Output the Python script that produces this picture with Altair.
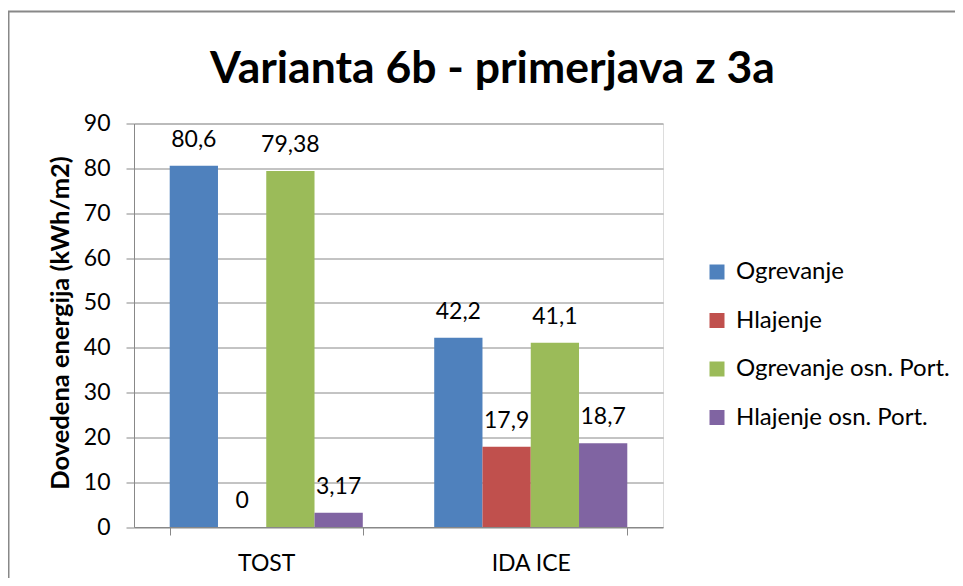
import altair as alt
import pandas as pd

categories = ["TOST", "IDA ICE"]
series = ["Ogrevanje", "Hlajenje", "Ogrevanje osn. Port.", "Hlajenje osn. Port."]
tost_values = [80.6, 0, 79.38, 3.17]
ida_values = [42.2, 17.9, 41.1, 18.7]
colors = ["#4F81BD", "#C0504D", "#9BBB59", "#8064A2"]
y_ticks = [0, 10, 20, 30, 40, 50, 60, 70, 80, 90]

rows = []
for cat, vals in zip(categories, [tost_values, ida_values]):
    for s, v in zip(series, vals):
        rows.append({"cat": cat, "series": s, "value": v,
                     "label": f"{v:g}".replace(".", ",")})
df = pd.DataFrame(rows)

FONT = "Lato"
GRID = "#888888"
FS = 23

x = alt.X("cat:N", sort=categories,
          scale=alt.Scale(paddingInner=0.27, paddingOuter=0.135),
          axis=alt.Axis(title=None, labelAngle=0, tickBand="extent",
                        tickSize=8, labelPadding=17, labelFontSize=FS,
                        labelFont=FONT, labelColor="black",
                        domainColor=GRID, tickColor=GRID, grid=False))
xo = alt.XOffset("series:N", sort=series,
                 scale=alt.Scale(paddingInner=0, paddingOuter=0))
y = alt.Y("value:Q", scale=alt.Scale(domain=[0, 90], nice=False),
          axis=alt.Axis(values=y_ticks, title="Dovedena energija (kWh/m2)",
                        titleFont=FONT, titleFontSize=25.5, titleFontWeight="bold",
                        titleColor="black", titleX=-66, titleY=199,
                        titleAngle=-90, titleBaseline="alphabetic", titleAlign="center",
                        labelFont=FONT, labelFontSize=FS, labelColor="black",
                        labelPadding=16, tickSize=8, tickColor=GRID,
                        domainColor=GRID, gridColor=GRID, grid=True))

bars = alt.Chart(df).mark_bar().encode(
    x=x, xOffset=xo, y=y,
    color=alt.Color("series:N", sort=series,
                    scale=alt.Scale(domain=series, range=colors),
                    legend=alt.Legend(title=None, orient="none",
                                      legendX=571, legendY=136.5,
                                      symbolType="square", symbolSize=225,
                                      symbolStrokeWidth=0, symbolOpacity=1,
                                      labelFont=FONT, labelFontSize=24,
                                      labelColor="black", labelOffset=7,
                                      labelLimit=400,
                                      rowPadding=24.5, padding=0)),
)

labels = alt.Chart(df).mark_text(font=FONT, fontSize=FS, color="black",
                                 baseline="alphabetic", dy=-19).encode(
    x=x, xOffset=xo, y=y, text="label:N")

border = alt.Chart(pd.DataFrame({"a": [0]})).mark_rect(
    fill=None, stroke="#888888", strokeWidth=2).encode(
    x=alt.value(-125.5), x2=alt.value(900),
    y=alt.value(-112), y2=alt.value(600))

chart = alt.layer(border, bars, labels).properties(
    width=529, height=403.5,
    title=alt.TitleParams("Varianta 6b - primerjava z 3a", font=FONT,
                          fontSize=44.5, fontWeight="bold", color="black",
                          anchor="middle", dx=94, offset=-82),
    autosize=alt.AutoSizeParams(type="none"),
    padding={"left": 126, "top": 115.5, "right": 292, "bottom": 51},
).configure_view(stroke=None).configure(background="white")

chart.save("out.html", embed_options={"renderer": "svg", "actions": False})
